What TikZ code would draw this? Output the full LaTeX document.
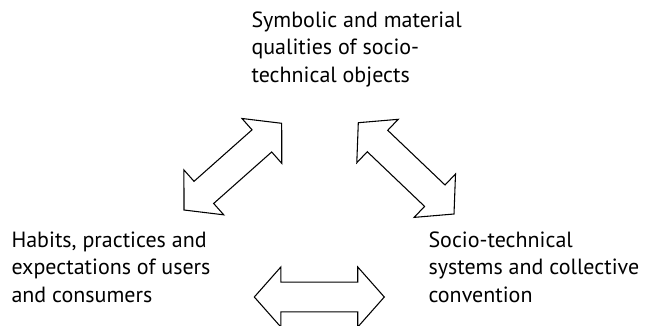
\documentclass[tikz,border=0pt]{standalone}
\usepackage{fontspec}
\setmainfont{PT Sans}
\usetikzlibrary{calc}

% block double arrow between two named tips
\newcommand{\arrhead}{19.9pt}
\newcommand{\arrwide}{22.5pt}
\newcommand{\arrshaft}{11.1pt}
\newcommand{\dblarrow}[2]{%
\draw [black] (#1) -- ($(#1)!\arrhead!(#2)!\arrwide!90:(#2)$) -- ($(#1)!\arrhead!(#2)!\arrshaft!90:(#2)$)
  -- ($(#2)!\arrhead!(#1)!\arrshaft!-90:(#1)$) -- ($(#2)!\arrhead!(#1)!\arrwide!-90:(#1)$) -- (#2)
  -- ($(#2)!\arrhead!(#1)!\arrwide!90:(#1)$) -- ($(#2)!\arrhead!(#1)!\arrshaft!90:(#1)$)
  -- ($(#1)!\arrhead!(#2)!\arrshaft!-90:(#2)$) -- ($(#1)!\arrhead!(#2)!\arrwide!-90:(#2)$) -- cycle;}

\begin{document}
\begin{tikzpicture}[x=0.75pt,y=0.75pt,line width=0.8pt]
\tikzstyle{every node}+=[inner sep=0pt]
\tikzstyle{label}=[anchor=north west, align=left, font=\fontsize{16.5}{20.6}\selectfont]
\useasboundingbox (0,0) rectangle (652,-325);
\node [label] (symbolic) at (251,-11) {Symbolic and material\\qualities of socio-\\technical objects};
\node [label] (habits) at (11,-231) {Habits, practices and\\expectations of users\\and consumers};
\node [label] (systems) at (428,-231) {Socio-technical\\systems and collective\\convention};
\coordinate (habits-tip) at (184,-210);
\coordinate (symbolic-tip1) at (281.7,-123.3);
\coordinate (symbolic-tip2) at (358.3,-122.7);
\coordinate (systems-tip) at (454,-214);
\coordinate (habits-end) at (254.3,-297);
\coordinate (systems-end) at (384.3,-297);
\dblarrow{habits-tip}{symbolic-tip1}
\dblarrow{symbolic-tip2}{systems-tip}
\dblarrow{habits-end}{systems-end}
\end{tikzpicture}
\end{document}
